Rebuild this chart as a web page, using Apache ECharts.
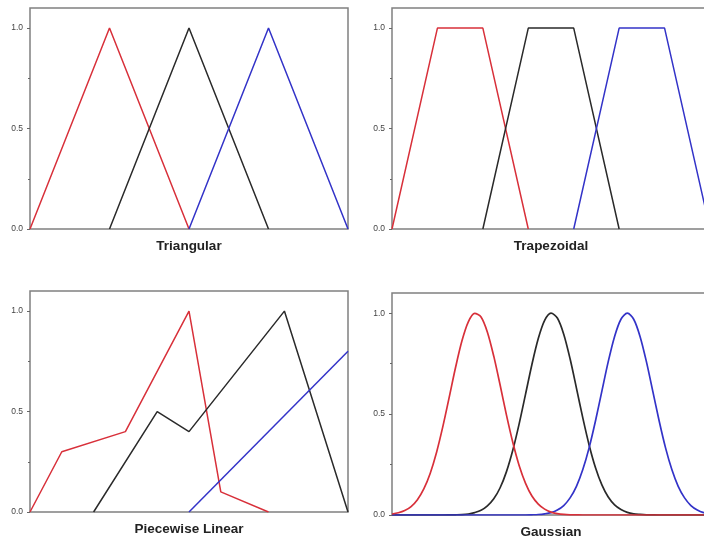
<!DOCTYPE html>
<html>
<head>
<meta charset="utf-8">
<script src="https://cdn.jsdelivr.net/npm/echarts@6/dist/echarts.min.js"></script>
<style>html,body{margin:0;padding:0;background:#fff;}#c{width:704px;height:539px;}</style>
</head>
<body>
<div id="c"></div>
<script>
// ---- data ----
var panelTitles = ['Triangular', 'Trapezoidal', 'Piecewise Linear', 'Gaussian'];
var yTickLabels = [0, 0.5, 1.0];
var yMinorTicks = [0.25, 0.75];

var triRed   = [[0, 0], [0.25, 1], [0.5, 0]];
var triBlack = [[0.25, 0], [0.5, 1], [0.75, 0]];
var triBlue  = [[0.5, 0], [0.75, 1], [1.0, 0]];

var trapRed   = [[0, 0], [1/7, 1], [2/7, 1], [3/7, 0]];
var trapBlack = [[2/7, 0], [3/7, 1], [4/7, 1], [5/7, 0]];
var trapBlue  = [[4/7, 0], [5/7, 1], [6/7, 1], [1.0, 0]];

var pwRed   = [[0, 0], [0.1, 0.3], [0.3, 0.4], [0.5, 1.0], [0.6, 0.1], [0.75, 0]];
var pwBlack = [[0.2, 0], [0.4, 0.5], [0.5, 0.4], [0.8, 1.0], [1.0, 0]];
var pwBlue  = [[0.5, 0], [1.0, 0.8]];

var gaussX = [0,0.02,0.04,0.06,0.08,0.10,0.12,0.14,0.16,0.18,0.20,0.22,0.24,0.26,0.28,0.30,0.32,0.34,0.36,0.38,0.40,0.42,0.44,0.46,0.48,0.50,0.52,0.54,0.56,0.58,0.60,0.62,0.64,0.66,0.68,0.70,0.72,0.74,0.76,0.78,0.80,0.82,0.84,0.86,0.88,0.90,0.92,0.94,0.96,0.98,1.00];
var gaussRed = [0.005,0.011,0.022,0.042,0.076,0.129,0.206,0.310,0.439,0.584,0.732,0.863,0.957,0.999,0.981,0.906,0.787,0.644,0.495,0.359,0.244,0.157,0.094,0.054,0.029,0.014,0.007,0.003,0.001,0.0005,0,0,0,0,0,0,0,0,0,0,0,0,0,0,0,0,0,0,0,0,0];
var gaussBlack = [0,0,0,0,0,0,0,0,0,0.0004,0.001,0.002,0.005,0.012,0.023,0.045,0.080,0.135,0.215,0.322,0.453,0.599,0.746,0.874,0.964,1.000,0.976,0.896,0.774,0.629,0.481,0.346,0.234,0.149,0.089,0.050,0.027,0.013,0.006,0.003,0.001,0.0004,0,0,0,0,0,0,0,0,0];
var gaussBlue = [0,0,0,0,0,0,0,0,0,0,0,0,0,0,0,0,0,0,0,0,0,0,0.001,0.0025,0.006,0.012,0.025,0.047,0.085,0.142,0.225,0.334,0.467,0.614,0.760,0.885,0.970,1.000,0.970,0.885,0.760,0.614,0.467,0.334,0.225,0.142,0.085,0.047,0.025,0.012,0.006];

// ---- layout ----
var RED = '#d8303a', BLACK = '#2a2a2a', BLUE = '#3333c8';
var grids = [
  {left: 30, top: 8, width: 318, height: 221},
  {left: 392, top: 8, width: 318, height: 221},
  {left: 30, top: 291, width: 318, height: 221},
  {left: 392, top: 293, width: 318, height: 222}
];

function zip(xs, ys) { return xs.map(function (x, i) { return [x, ys[i]]; }); }

var option = {
  animation: false,
  backgroundColor: '#fff',
  grid: grids.map(function (g) {
    return Object.assign({show: true, borderColor: '#808080', borderWidth: 1.5, backgroundColor: 'transparent',
      outerBoundsMode: 'none', containLabel: false}, g);
  }),
  xAxis: grids.map(function (g, i) {
    return {
      type: 'value', gridIndex: i, min: 0, max: 1,
      axisLine: {show: false}, axisTick: {show: false}, axisLabel: {show: false}, splitLine: {show: false},
      name: panelTitles[i], nameLocation: 'middle', nameGap: 10,
      nameTextStyle: {fontFamily: 'Liberation Sans, Arial, sans-serif', fontWeight: 'bold', fontSize: 13.5, color: '#222'}
    };
  }),
  yAxis: [],
  series: []
};

grids.forEach(function (g, i) {
  option.yAxis.push({
    type: 'value', gridIndex: i, min: 0, max: 1.1,
    axisLine: {show: false}, splitLine: {show: false},
    axisTick: {show: true, length: 3, customValues: yTickLabels, lineStyle: {color: '#666', width: 1}},
    axisLabel: {show: true, customValues: yTickLabels, margin: 7, fontSize: 8.5, color: '#444',
      fontFamily: 'Liberation Sans, Arial, sans-serif',
      formatter: function (v) { return Number(v).toFixed(1); }}
  });
  option.yAxis.push({
    type: 'value', gridIndex: i, min: 0, max: 1.1, position: 'left',
    axisLine: {show: false}, splitLine: {show: false}, axisLabel: {show: false},
    axisTick: {show: true, length: 2, customValues: yMinorTicks, lineStyle: {color: '#666', width: 1}}
  });
});

function line(i, data, color, smooth, w) {
  return {
    type: 'line', xAxisIndex: i, yAxisIndex: i * 2, data: data, symbol: 'none',
    smooth: smooth || false, lineStyle: {color: color, width: w || 1.5}, itemStyle: {color: color}
  };
}

option.series.push(line(0, triRed, RED), line(0, triBlack, BLACK), line(0, triBlue, BLUE));
option.series.push(line(1, trapRed, RED), line(1, trapBlack, BLACK), line(1, trapBlue, BLUE));
option.series.push(line(2, pwRed, RED), line(2, pwBlack, BLACK), line(2, pwBlue, BLUE));
option.series.push(line(3, zip(gaussX, gaussBlack), BLACK, 0.3, 1.7), line(3, zip(gaussX, gaussBlue), BLUE, 0.3, 1.7), line(3, zip(gaussX, gaussRed), RED, 0.3, 1.7));

var chart = echarts.init(document.getElementById('c'), null, {renderer: 'canvas'});
chart.setOption(option);
</script>
</body>
</html>
